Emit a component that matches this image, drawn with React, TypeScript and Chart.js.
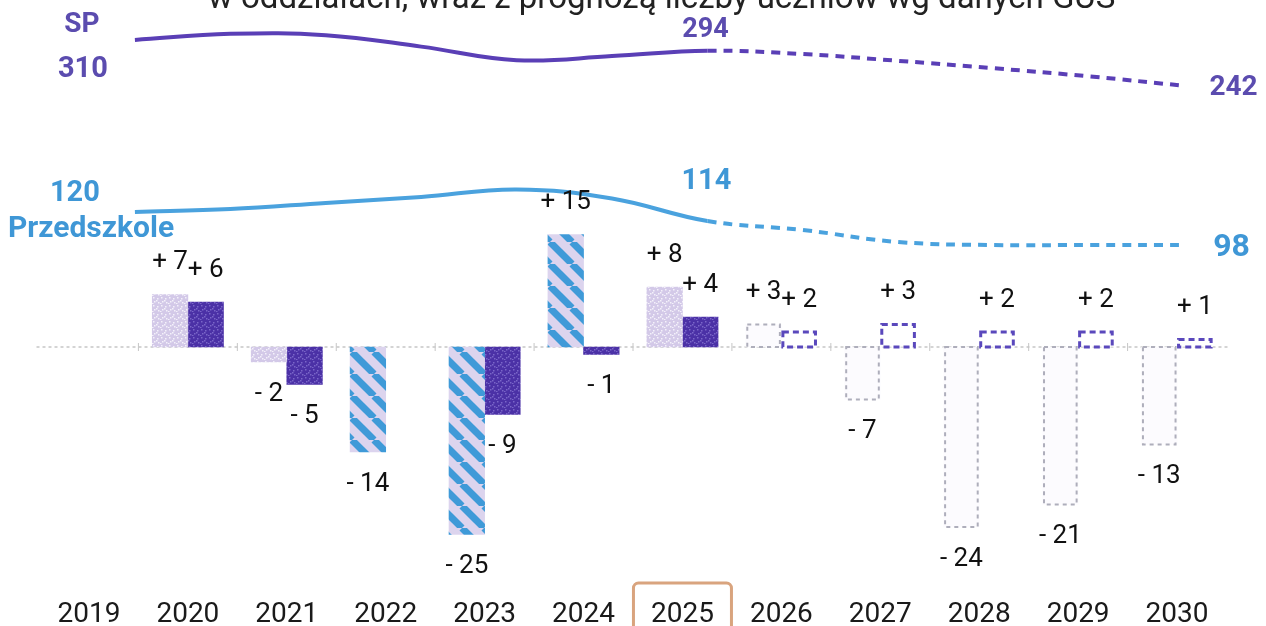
import React, { useEffect, useRef } from 'react';
import { Chart, registerables } from 'chart.js';

Chart.register(...registerables);

// ---------- data ----------
const years = ['2019', '2020', '2021', '2022', '2023', '2024', '2025', '2026', '2027', '2028', '2029', '2030'];
const changeLight: (number | null)[] = [null, 7, -2, -14, -25, 15, 8, 3, -7, -24, -21, -13];
const changeDark: (number | null)[] = [null, 6, -5, null, -9, -1, 4, 2, 3, 2, 2, 1];
const spPupils = [310, 319, 317, 300, 280, 286, 294, 289, 279, 268, 256, 242];
const preschoolChildren = [120, 122, 126, 130, 135, 129, 114, 108, 100, 98, 98, 98];
const hatchedYears = ['2022', '2023', '2024'];
const forecastFromYear = '2026';
const dashedLineFromYear = '2025';
const highlightedYear = '2025';
const titleText = 'w oddziałach, wraz z prognozą liczby uczniów wg danych GUS';

// ---------- styles ----------
const SP_COLOR = '#5a3fb6';
const SP_TEXT = '#5b4caf';
const P_COLOR = '#4aa2de';
const P_TEXT = '#3f97d6';
const DARK_BAR = '#4b31a6';
const LIGHT_BAR = '#d3c9e8';

function makeSpeckle(base: string, fleck: string): CanvasPattern | string {
  const c = document.createElement('canvas');
  c.width = 8;
  c.height = 8;
  const g = c.getContext('2d');
  if (!g) return base;
  g.fillStyle = base;
  g.fillRect(0, 0, 8, 8);
  g.fillStyle = fleck;
  const pts = [[1, 1], [5, 2], [2, 5], [6, 6], [4, 4], [0, 7]];
  pts.forEach(([x, y]) => g.fillRect(x, y, 1.5, 1.5));
  return g.createPattern(c, 'repeat') || base;
}

function makeHatch(): CanvasPattern | string {
  const s = 22;
  const c = document.createElement('canvas');
  c.width = s;
  c.height = s;
  const g = c.getContext('2d');
  if (!g) return P_COLOR;
  g.fillStyle = '#dcd4ee';
  g.fillRect(0, 0, s, s);
  g.strokeStyle = '#3f9ad8';
  g.lineWidth = 7;
  [-s, 0, s].forEach((x0) => {
    g.beginPath();
    g.moveTo(x0, 0);
    g.lineTo(x0 + s, s);
    g.stroke();
  });
  return g.createPattern(c, 'repeat') || P_COLOR;
}

export default function App() {
  const ref = useRef<HTMLCanvasElement>(null);

  useEffect(() => {
    const canvas = ref.current;
    if (!canvas) return;
    const forecastIdx = years.indexOf(forecastFromYear);
    const dashIdx = years.indexOf(dashedLineFromYear);

    const hatch = makeHatch();
    const lightSpeckle = makeSpeckle(LIGHT_BAR, '#f4f1fa');
    const darkSpeckle = makeSpeckle(DARK_BAR, '#7a66c8');

    const lightBg = years.map((y, i) =>
      i >= forecastIdx ? 'rgba(252,251,254,0.9)' : hatchedYears.includes(y) ? hatch : lightSpeckle
    );
    const darkBg = years.map((_, i) => (i >= forecastIdx ? 'rgba(255,255,255,0.6)' : darkSpeckle));

    const decor = {
      id: 'decor',
      beforeDatasetsDraw(chart: any) {
        const { ctx, chartArea, scales } = chart;
        const y0 = scales.y.getPixelForValue(0);
        ctx.save();
        ctx.strokeStyle = '#c6c6c6';
        ctx.lineWidth = 1.5;
        ctx.setLineDash([3, 3]);
        ctx.beginPath();
        ctx.moveTo(chartArea.left - 3, y0);
        ctx.lineTo(chartArea.right + 3, y0);
        ctx.stroke();
        ctx.setLineDash([]);
        ctx.lineWidth = 1;
        for (let i = 1; i < years.length; i++) {
          const bx = (scales.x.getPixelForValue(i - 1) + scales.x.getPixelForValue(i)) / 2;
          ctx.beginPath();
          ctx.moveTo(bx, y0 - 4);
          ctx.lineTo(bx, y0 + 4);
          ctx.stroke();
        }
        ctx.restore();
      },
      afterDatasetsDraw(chart: any) {
        const { ctx, scales } = chart;
        ctx.save();

        // dashed outlines of forecast bars
        [2, 3].forEach((dsIndex) => {
          const meta = chart.getDatasetMeta(dsIndex);
          const values = chart.data.datasets[dsIndex].data;
          meta.data.forEach((el: any, i: number) => {
            if (i < forecastIdx || values[i] == null) return;
            const left = el.x - el.width / 2;
            const top = Math.min(el.y, el.base);
            const h = Math.abs(el.base - el.y);
            ctx.setLineDash(dsIndex === 2 ? [4, 4] : [6, 4]);
            ctx.strokeStyle = dsIndex === 2 ? '#aeaebb' : '#5a48bc';
            ctx.lineWidth = dsIndex === 2 ? 2 : 3;
            ctx.strokeRect(left + 1.5, top, el.width - 3, h);
          });
        });
        ctx.setLineDash([]);

        // bar value labels
        ctx.font = '26px Roboto';
        ctx.fillStyle = '#111';
        ctx.textAlign = 'center';
        ctx.textBaseline = 'middle';
        [2, 3].forEach((dsIndex) => {
          const meta = chart.getDatasetMeta(dsIndex);
          const values = chart.data.datasets[dsIndex].data;
          meta.data.forEach((el: any, i: number) => {
            const v = values[i];
            if (v == null) return;
            const txt = v > 0 ? `+ ${v}` : `- ${Math.abs(v)}`;
            const y = v >= 0 ? el.y - 32 : el.y + 32;
            ctx.fillText(txt, el.x, y);
          });
        });

        // line labels
        const spMeta = chart.getDatasetMeta(0);
        const pMeta = chart.getDatasetMeta(1);
        const last = years.length - 1;
        const labels = [
          { m: spMeta, i: 0, t: chart.data.datasets[0].label, dx: -53, dy: -15, f: 'bold 28px Roboto', c: SP_TEXT, a: 'center' },
          { m: spMeta, i: 0, t: String(spPupils[0]), dx: -52, dy: 30, f: 'bold 29px Roboto', c: SP_TEXT, a: 'center' },
          { m: spMeta, i: dashIdx, t: String(spPupils[dashIdx]), dx: -2, dy: -20, f: 'bold 27px Roboto', c: SP_TEXT, a: 'center' },
          { m: spMeta, i: last, t: String(spPupils[last]), dx: 49, dy: 2, f: 'bold 28px Roboto', c: SP_TEXT, a: 'center' },
          { m: pMeta, i: 0, t: String(preschoolChildren[0]), dx: -60, dy: -18, f: 'bold 29px Roboto', c: P_TEXT, a: 'center' },
          { m: pMeta, i: 0, t: chart.data.datasets[1].label, dx: -127, dy: 17, f: 'bold 30px Roboto', c: P_TEXT, a: 'left' },
          { m: pMeta, i: dashIdx, t: String(preschoolChildren[dashIdx]), dx: -1, dy: -39, f: 'bold 29px Roboto', c: P_TEXT, a: 'center' },
          { m: pMeta, i: last, t: String(preschoolChildren[last]), dx: 47, dy: 3, f: 'bold 32px Roboto', c: P_TEXT, a: 'center' },
        ];
        labels.forEach((l) => {
          const p = l.m.data[l.i];
          if (!p) return;
          ctx.font = l.f;
          ctx.fillStyle = l.c;
          ctx.textAlign = l.a;
          ctx.textBaseline = 'middle';
          ctx.fillText(l.t, p.x + l.dx, p.y + l.dy);
        });

        // title (cut at the top of the picture)
        ctx.font = '33px Roboto';
        ctx.fillStyle = '#222';
        ctx.textAlign = 'left';
        ctx.textBaseline = 'alphabetic';
        ctx.fillText(titleText, 208, 8);

        // highlighted year box
        const hi = years.indexOf(highlightedYear);
        const cx = scales.x.getPixelForValue(hi);
        ctx.strokeStyle = '#d9a47e';
        ctx.lineWidth = 3;
        ctx.beginPath();
        (ctx as any).roundRect(cx - 49, 583, 98, 60, 5);
        ctx.stroke();

        ctx.restore();
      },
    };

    const chart = new Chart(canvas, {
      type: 'bar',
      data: {
        labels: years,
        datasets: [
          {
            type: 'line',
            label: 'SP',
            data: years.map((y, i) => ({ x: Number(y), y: spPupils[i] })),
            xAxisID: 'xl',
            yAxisID: 'ySP',
            borderColor: SP_COLOR,
            borderWidth: 4,
            pointRadius: 0,
            tension: 0.4,
            segment: { borderDash: (c: any) => (c.p0DataIndex >= dashIdx ? [9, 7] : undefined) },
          } as any,
          {
            type: 'line',
            label: 'Przedszkole',
            data: years.map((y, i) => ({ x: Number(y), y: preschoolChildren[i] })),
            xAxisID: 'xl',
            yAxisID: 'yP',
            borderColor: P_COLOR,
            borderWidth: 4,
            pointRadius: 0,
            tension: 0.4,
            segment: { borderDash: (c: any) => (c.p0DataIndex >= dashIdx ? [9, 7] : undefined) },
          } as any,
          {
            type: 'bar',
            label: 'zmiana A',
            data: changeLight,
            xAxisID: 'x',
            yAxisID: 'y',
            backgroundColor: lightBg as any,
            borderWidth: 0,
            barThickness: 35.6,
          } as any,
          {
            type: 'bar',
            label: 'zmiana B',
            data: changeDark,
            xAxisID: 'x',
            yAxisID: 'y',
            backgroundColor: darkBg as any,
            borderWidth: 0,
            barThickness: 35.6,
          } as any,
        ],
      },
      options: {
        animation: false,
        responsive: true,
        maintainAspectRatio: false,
        layout: { padding: { left: 39.5, right: 39.5, top: 9.5, bottom: 0 } },
        plugins: { legend: { display: false }, tooltip: { enabled: false }, title: { display: false } },
        scales: {
          x: {
            type: 'category',
            offset: true,
            grid: { display: false },
            border: { display: false },
            ticks: { font: { family: 'Roboto', size: 28 }, color: '#1a1a1a', padding: 18, maxRotation: 0, autoSkip: false },
            afterFit: (s: any) => {
              s.height = 54;
            },
          },
          xl: { type: 'linear', display: false, offset: false, grid: { offset: false }, min: 2018, max: 2030.44 },
          y: { type: 'linear', display: false, min: -30, max: 45 },
          ySP: { type: 'linear', display: false, min: -478, max: 355 },
          yP: { type: 'linear', display: false, min: -120, max: 255 },
        },
      } as any,
      plugins: [decor as any],
    });

    return () => chart.destroy();
  }, []);

  return (
    <div style={{ position: 'fixed', left: 0, top: 0, width: 1266, height: 626, background: '#fff' }}>
      <canvas ref={ref} />
    </div>
  );
}
